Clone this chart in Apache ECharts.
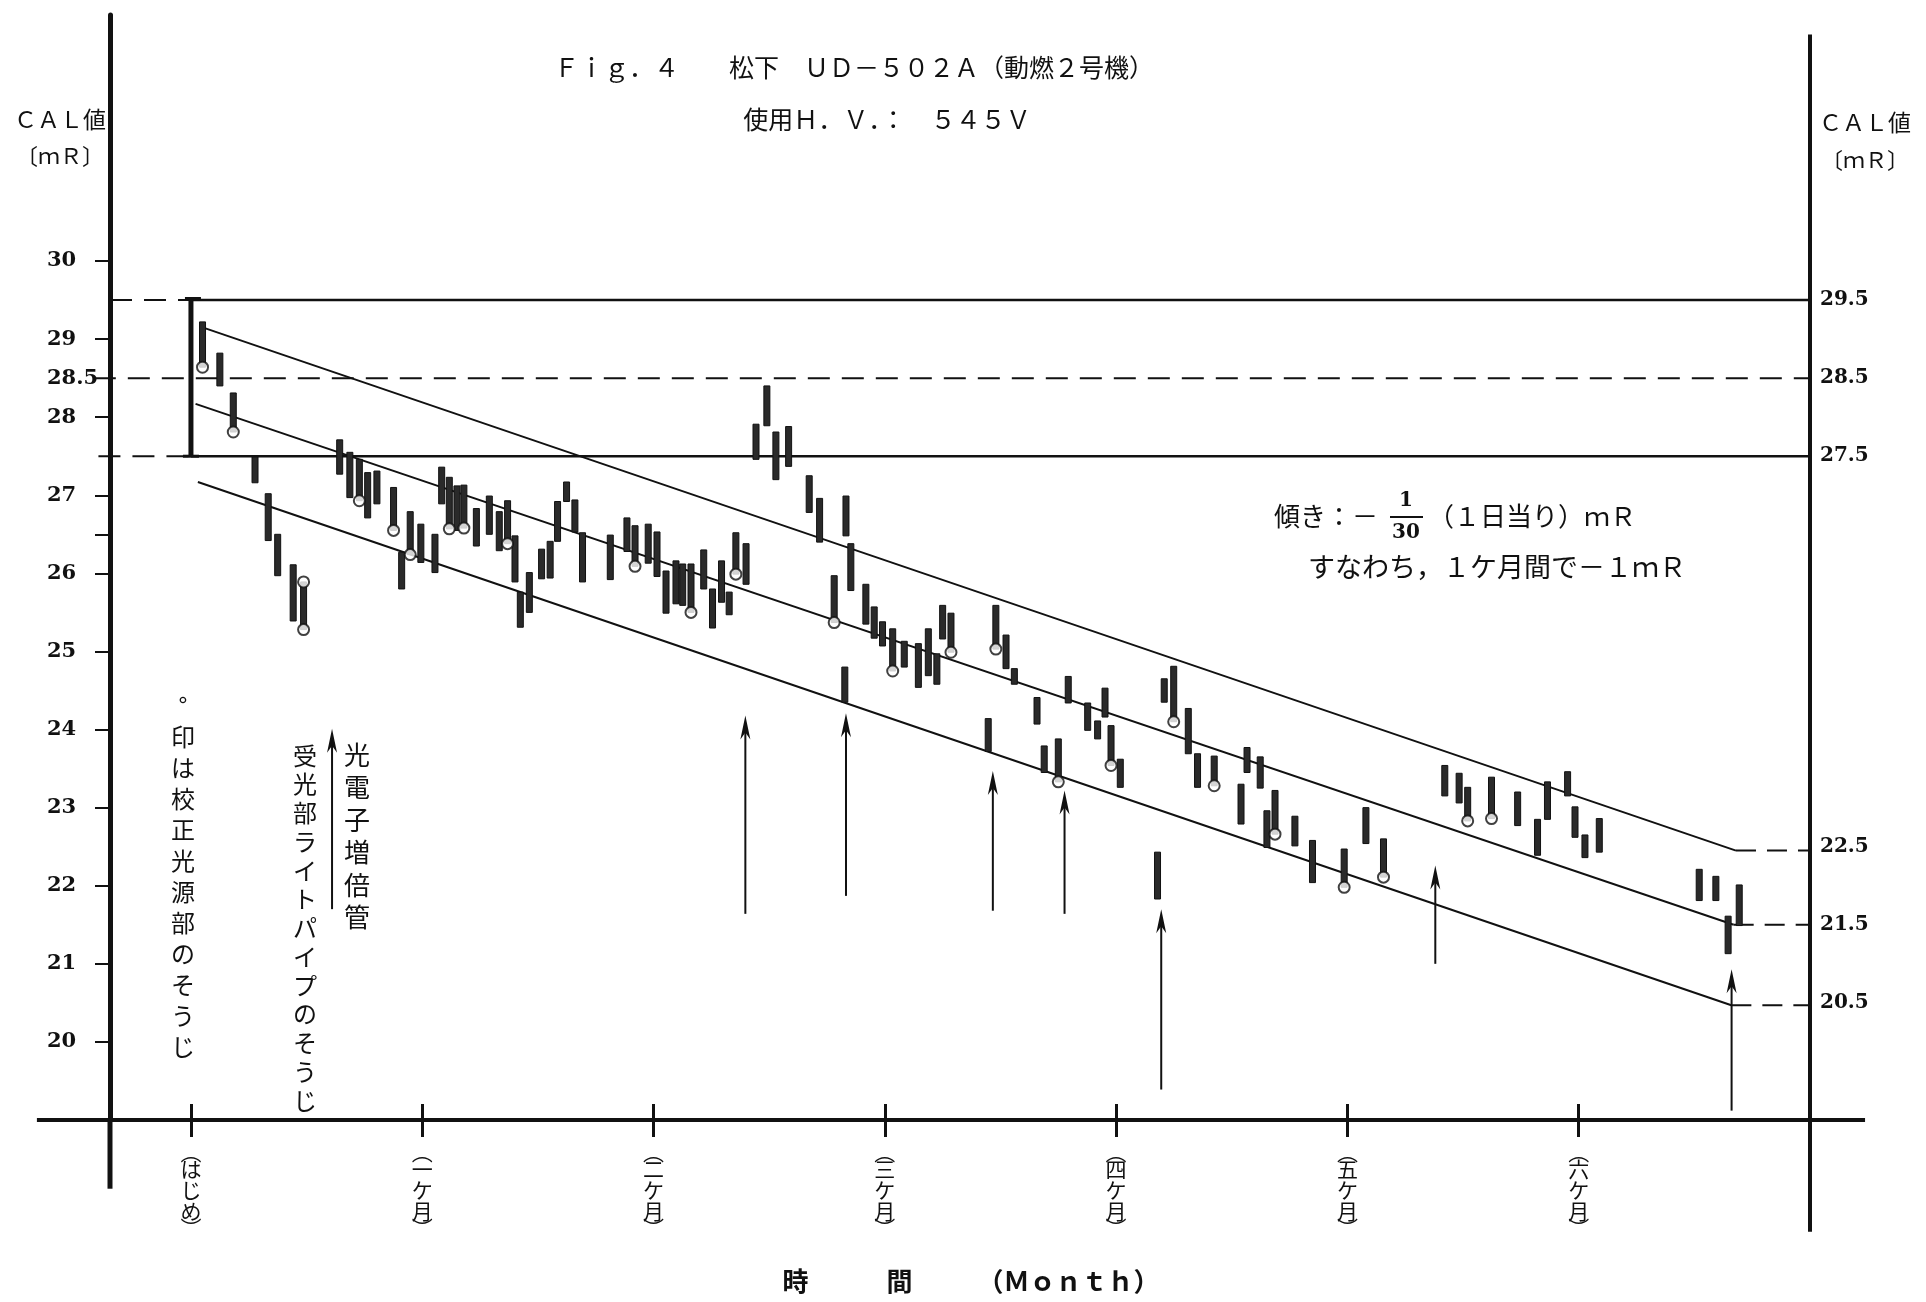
<!DOCTYPE html>
<html><head><meta charset="utf-8">
<script src="https://cdn.jsdelivr.net/npm/echarts@6/dist/echarts.min.js"></script>
<style>html,body{margin:0;padding:0;background:#fff}#chart{width:1926px;height:1302px}</style>
</head><body><div id="chart"></div>
<script>
// ---- data (months since start, CAL value in mR) ----
const months = [0.05,0.125,0.183,0.277,0.334,0.375,0.442,0.487,0.643,0.687,0.728,0.764,0.804,0.876,0.911,0.948,0.994,1.055,1.084,1.117,1.150,1.180,1.234,1.290,1.333,1.369,1.401,1.424,1.463,
  1.516,1.553,1.585,1.624,1.660,1.693,1.813,1.885,1.920,1.977,2.015,2.054,2.097,2.126,2.162,2.217,2.255,2.294,2.327,2.356,2.400,2.443,2.490,2.529,2.584,2.673,
  2.718,2.781,2.827,2.832,2.853,2.918,2.954,2.990,3.034,3.084,3.145,3.188,3.225,3.250,3.286,3.480,3.524,3.560,
  3.447,3.658,3.689,3.750,3.793,3.877,3.920,3.952,3.978,4.018,4.179,4.208,4.249,4.312,4.352,4.424,4.540,4.566,
  4.623,4.652,4.687,4.773,4.849,4.986,5.080,5.156,5.421,5.483,5.520,5.623,5.736,
  5.822,5.865,5.952,5.984,6.027,6.089,6.521,6.593,6.646,6.694];
const highs = [29.22,28.82,28.31,27.49,27.02,26.50,26.11,25.89,27.71,27.55,27.46,27.29,27.31,27.10,26.27,26.79,26.63,26.50,27.36,27.23,27.12,27.13,26.83,26.99,26.79,26.93,26.48,25.76,26.01,
  26.31,26.41,26.92,27.17,26.94,26.52,26.49,26.71,26.61,26.63,26.53,26.03,26.16,26.12,26.12,26.30,25.80,26.16,25.76,26.52,26.38,27.91,28.40,27.81,27.88,27.25,
  26.96,25.97,24.80,26.99,26.38,25.86,25.57,25.38,25.29,25.13,25.10,25.29,24.97,25.59,25.49,25.59,25.21,24.78,
  24.14,24.41,23.79,23.88,24.68,24.34,24.11,24.53,24.05,23.62,22.43,24.65,24.81,24.27,23.69,23.66,23.30,23.77,
  23.65,22.96,23.22,22.89,22.58,22.47,23.00,22.60,23.54,23.44,23.26,23.39,23.20,
  22.85,23.33,23.46,23.01,22.65,22.86,22.21,22.12,21.61,22.01];
const lows = [28.64,28.40,27.81,27.16,26.42,25.97,25.39,25.28,27.27,26.97,26.93,26.71,26.89,26.55,25.80,26.24,26.14,26.01,26.89,26.57,26.55,26.58,26.35,26.50,26.29,26.38,25.89,25.31,25.50,
  25.93,25.94,26.41,26.92,26.53,25.89,25.92,26.28,26.09,26.13,25.96,25.49,25.61,25.59,25.50,25.80,25.30,25.63,25.47,25.99,25.86,27.46,27.89,27.20,27.37,26.78,
  26.40,25.37,24.35,26.48,25.78,25.35,25.17,25.07,24.75,24.80,24.54,24.69,24.58,25.16,24.99,25.03,24.78,24.58,
  23.72,24.07,23.45,23.33,24.34,23.99,23.88,24.16,23.54,23.26,21.83,24.35,24.10,23.69,23.26,23.28,22.79,23.45,
  23.25,22.49,22.66,22.51,22.04,21.98,22.54,22.11,23.15,23.06,22.83,22.86,22.77,
  22.39,22.85,23.15,22.62,22.36,22.43,21.81,21.81,21.13,21.49];
// 0 = no circle, 1 = circle at low end, 2 = circle at high end, 3 = both ends
const circleFlags = [1,0,1,0,0,0,0,3,0,0,1,0,0,1,0,1,0,0,0,1,0,1,0,0,0,1,0,0,0,
  0,0,0,0,0,0,0,0,1,0,0,0,0,0,1,0,0,0,0,1,0,0,0,0,0,0,
  0,1,0,0,0,0,0,0,1,0,0,0,0,0,1,1,0,0,
  0,0,0,1,0,0,0,0,1,0,0,0,1,0,0,1,0,0,
  0,0,1,0,0,1,0,1,0,0,1,1,0,
  0,0,0,0,0,0,0,0,0,0];
// cleaning events (arrows)
const arrowMonths = [0.61,2.397,2.832,3.467,3.777,4.195,5.38,6.661];
const arrowTails  = [21.70,21.64,21.87,21.68,21.64,19.39,21.00,19.12];
const arrowTips   = [24.01,24.18,24.21,23.47,23.22,21.70,22.26,20.93];
// trend lines (slope -1 mR per month)
const trendUpper  = [[0.05,29.15],[6.68,22.45]];
const trendMiddle = [[0.02,28.17],[6.67,21.50]];
const trendLower  = [[0.03,27.17],[6.66,20.47]];
// initial range bar and reference levels
const initialRange = [[0, 27.5, 29.52]];
const refLevels = [29.5, 28.5, 27.5];
const endLevels = [22.45, 21.5, 20.47];
// tick labels
const leftTickLabels = [30,29,28.5,28,27,26,25,24,23,22,21,20];
const leftTickMarks  = [30,29,28,27,26.5,26,25,24,23,22,21,20];
const rightTickLabels = [29.5,28.5,27.5,22.5,21.5,20.5];
const monthTicks = [0,1,2,3,4,5,6];
const monthLabels = ['(はじめ)','(一ケ月)','(二ケ月)','(三ケ月)','(四ケ月)','(五ケ月)','(六ケ月)'];

// ---- chart ----
const INK = '#111';
const X_MIN = -0.35, X_MAX = 7.0, Y_MIN = 19, Y_MAX = 33.15;
const chart = echarts.init(document.getElementById('chart'), null, {renderer: 'canvas'});

function vert(s) {
  return s.replace('(', '︵').replace(')', '︶').split('').join('\n');
}
// vertical month label with compact parenthesis lines
function vertRich(s) {
  const body = s.replace(/[()]/g, '').split('').map(c => '{c|' + c + '}').join('\n');
  return '{p|︵}\n' + body + '\n{p|︶}';
}
// straight segments drawn through the axes' scales (may run outside the plot frame)
function segs(list, width, dash) {
  return {
    type: 'custom', silent: true, z: 3, clip: false,
    data: list.map(p => [p[0][0], p[0][1], p[1][0], p[1][1]]),
    encode: {x: [0, 2], y: [1, 3]},
    renderItem: function (params, api) {
      const a = api.coord([api.value(0), api.value(1)]);
      const b = api.coord([api.value(2), api.value(3)]);
      return {type: 'line', shape: {x1: a[0], y1: a[1], x2: b[0], y2: b[1]},
        style: {stroke: INK, lineWidth: width, lineDash: dash || null}};
    }
  };
}
const DASH = [22, 12];
const DASH2 = [20, 11];

const series = [
  // trend lines
  segs([trendUpper, trendMiddle, trendLower], 2),
  // reference levels: dashed parts
  segs([
    [[X_MIN, refLevels[0]], [0, refLevels[0]]],
    [[-0.42, refLevels[1]], [X_MAX, refLevels[1]]],
    [[-0.40, refLevels[2]], [0, refLevels[2]]]
  ], 2, DASH),
  // reference levels: solid parts
  segs([
    [[0, refLevels[0]], [X_MAX, refLevels[0]]],
    [[0, refLevels[2]], [X_MAX, refLevels[2]]]
  ], 2.5),
  // end-level dashes
  segs([
    [[trendUpper[1][0], endLevels[0]], [X_MAX, endLevels[0]]],
    [[trendMiddle[1][0], endLevels[1]], [X_MAX, endLevels[1]]],
    [[trendLower[1][0], endLevels[2]], [X_MAX, endLevels[2]]]
  ], 2, DASH2),
  // axis frame extensions
  segs([[[X_MIN, Y_MIN], [X_MIN, 18.12]]], 5),
  segs([[[X_MAX, 32.9], [X_MAX, 17.57]]], 4),
  segs([[[-0.666, Y_MIN], [X_MIN, Y_MIN]], [[X_MAX, Y_MIN], [7.238, Y_MIN]]], 4),
  // initial range bar
  {
    type: 'custom', data: initialRange, encode: {x: 0, y: [1, 2]}, z: 4, silent: true,
    renderItem: function (params, api) {
      const t = api.coord([api.value(0), api.value(2)]);
      const b = api.coord([api.value(0), api.value(1)]);
      return {type: 'group', children: [
        {type: 'line', shape: {x1: t[0], y1: t[1], x2: b[0], y2: b[1]}, style: {stroke: INK, lineWidth: 5}},
        {type: 'line', shape: {x1: t[0] - 6, y1: t[1], x2: t[0] + 10, y2: t[1]}, style: {stroke: INK, lineWidth: 3}},
        {type: 'line', shape: {x1: b[0] - 8, y1: b[1], x2: b[0] + 8, y2: b[1]}, style: {stroke: INK, lineWidth: 3}}
      ]};
    }
  },
  // measured ranges
  {
    type: 'custom', name: 'CAL', data: months.map((m, i) => [m, lows[i], highs[i]]),
    encode: {x: 0, y: [1, 2]}, z: 5, silent: true,
    renderItem: function (params, api) {
      const t = api.coord([api.value(0), api.value(2)]);
      const b = api.coord([api.value(0), api.value(1)]);
      return {type: 'rect', shape: {x: t[0] - 3, y: t[1], width: 6, height: b[1] - t[1]},
        style: {fill: '#2a2a2a', stroke: INK, lineWidth: 1}};
    }
  },
  // calibration source cleaning marks
  {
    type: 'scatter', z: 6, silent: true, symbol: 'circle', symbolSize: 11,
    itemStyle: {color: '#fff', borderColor: INK, borderWidth: 2},
    data: (function () {
      const out = [];
      circleFlags.forEach((f, i) => {
        if (f === 1 || f === 3) out.push([months[i], lows[i]]);
        if (f === 2 || f === 3) out.push([months[i], highs[i]]);
      });
      return out;
    })()
  },
  // arrows
  {
    type: 'custom', z: 4, silent: true,
    data: arrowMonths.map((m, i) => [m, arrowTails[i], arrowTips[i]]),
    encode: {x: 0, y: [1, 2]},
    renderItem: function (params, api) {
      const s = api.coord([api.value(0), api.value(1)]);
      const e = api.coord([api.value(0), api.value(2)]);
      const x = e[0], y = e[1];
      return {type: 'group', children: [
        {type: 'line', shape: {x1: s[0], y1: s[1], x2: x, y2: y + 10}, style: {stroke: INK, lineWidth: 2}},
        {type: 'polygon', shape: {points: [[x, y], [x - 5, y + 24], [x, y + 17], [x + 5, y + 24]]}, style: {fill: INK}}
      ]};
    }
  }
];

const serifLabel = {fontFamily: '"DejaVu Serif"', fontWeight: 'bold', fontSize: 21, color: INK};
const jp = '"Noto Sans CJK JP"';

function txt(text, x, y, size, opts) {
  opts = opts || {};
  return {type: 'text', x: x, y: y, silent: true, z: 10, style: {
    text: text, fill: INK, fontSize: size, fontFamily: opts.family || jp, fontWeight: opts.weight || 'normal',
    textAlign: opts.align || 'center', align: opts.align || 'center',
    textVerticalAlign: opts.valign || 'middle', verticalAlign: opts.valign || 'middle',
    lineHeight: opts.lh || size
  }};
}

const option = {
  animation: false,
  backgroundColor: '#fff',
  grid: {left: 110, right: 116, top: 15, bottom: 182},
  xAxis: [{
    type: 'value', min: X_MIN, max: X_MAX, position: 'bottom',
    axisLine: {show: true, onZero: false, lineStyle: {color: INK, width: 4}},
    axisTick: {show: true, customValues: monthTicks, length: 17, lineStyle: {color: INK, width: 3}},
    axisLabel: {show: true, customValues: monthTicks, margin: 26, fontFamily: jp, fontSize: 21, lineHeight: 21,
      color: INK, verticalAlign: 'top',
      formatter: v => vertRich(monthLabels[Math.round(v)]),
      rich: {
        p: {fontFamily: jp, fontSize: 21, lineHeight: 13, color: INK},
        c: {fontFamily: jp, fontSize: 21, lineHeight: 21, color: INK}
      }},
    splitLine: {show: false}
  }, {
    type: 'value', min: X_MIN, max: X_MAX, position: 'bottom',
    axisLine: {show: false, onZero: false},
    axisTick: {show: true, inside: true, customValues: monthTicks, length: 16, lineStyle: {color: INK, width: 3}},
    axisLabel: {show: false}, splitLine: {show: false}
  }],
  yAxis: [{
    type: 'value', min: Y_MIN, max: Y_MAX, position: 'left',
    axisLine: {show: true, onZero: false, lineStyle: {color: INK, width: 5}},
    axisTick: {show: true, customValues: leftTickMarks, length: 15, lineStyle: {color: INK, width: 2}},
    axisLabel: Object.assign({show: true, customValues: leftTickLabels, align: 'left', margin: 63,
      formatter: v => String(v)}, serifLabel),
    splitLine: {show: false}
  }, {
    type: 'value', min: Y_MIN, max: Y_MAX, position: 'right',
    axisLine: {show: false, onZero: false}, axisTick: {show: false},
    axisLabel: Object.assign({show: true, customValues: rightTickLabels, align: 'left', margin: 10,
      formatter: v => String(v)}, serifLabel, {fontSize: 20}),
    splitLine: {show: false}
  }],
  series: series,
  graphic: [
    txt('Ｆｉｇ．４　　松下　ＵＤ－５０２Ａ（動燃２号機）', 854, 67, 25),
    txt('使用Ｈ．Ｖ．：　５４５Ｖ', 887, 119, 25),
    txt('ＣＡＬ値', 60, 119, 23),
    txt('〔ｍＲ〕', 60, 156, 22),
    txt('ＣＡＬ値', 1865, 122, 23),
    txt('〔ｍＲ〕', 1865, 160, 22),
    txt('傾き：－', 1274, 516, 26, {align: 'left'}),
    txt('1', 1406, 501, 20, {family: '"DejaVu Serif"', weight: 'bold'}),
    txt('30', 1406, 533, 20, {family: '"DejaVu Serif"', weight: 'bold'}),
    {type: 'line', silent: true, shape: {x1: 1390, y1: 517, x2: 1423, y2: 517}, style: {stroke: INK, lineWidth: 2}},
    txt('（１日当り）ｍＲ', 1428, 516, 26, {align: 'left'}),
    txt('すなわち，１ケ月間で－１ｍＲ', 1308, 567, 27, {align: 'left'}),
    txt(vert('°印は校正光源部のそうじ'), 183, 690, 24, {valign: 'top', lh: 31}),
    txt(vert('受光部ライトパイプのそうじ'), 305, 741, 24, {valign: 'top', lh: 28.75}),
    txt(vert('光電子増倍管'), 357, 739, 26, {valign: 'top', lh: 32.4}),
    txt('時　　　間　　　（Ｍｏｎｔｈ）', 971, 1281, 26, {weight: 'bold'})
  ]
};
chart.setOption(option);
</script></body></html>
